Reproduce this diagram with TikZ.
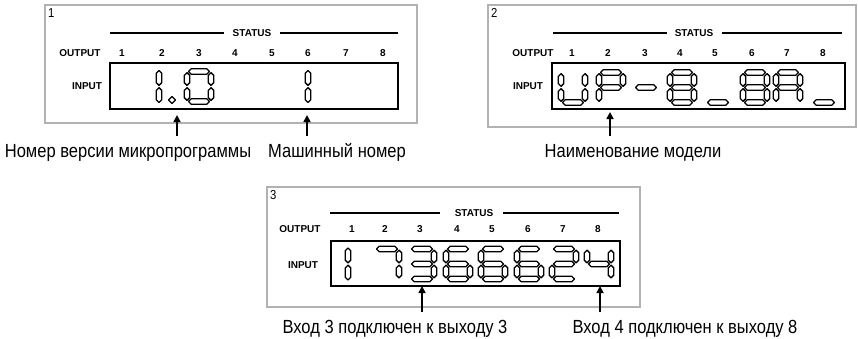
\documentclass[tikz,border=0pt]{standalone}
\usepackage{fontspec}
\setmainfont{Liberation Sans}
\newfontfamily\captionfont[FakeStretch=0.87]{Liberation Sans}
\usetikzlibrary{arrows.meta}

% one segment of the display: horizontal (x from, x to, y) and vertical (x, y from, y to)
\newcommand{\hseg}[3]{\filldraw[lcdseg] (#1,#3) -- ({#1+2.8},{#3-2.8}) -- ({#2-2.8},{#3-2.8}) -- (#2,#3) -- ({#2-2.8},{#3+2.8}) -- ({#1+2.8},{#3+2.8}) -- cycle;}
\newcommand{\vseg}[3]{\filldraw[lcdseg] (#1,#2) -- ({#1+2.8},{#2+2.8}) -- ({#1+2.8},{#3-2.8}) -- (#1,#3) -- ({#1-2.8},{#3-2.8}) -- ({#1-2.8},{#2+2.8}) -- cycle;}
\newcommand{\lcdsega}{\hseg{-10.5}{10.5}{-15}}
\newcommand{\lcdsegb}{\vseg{12}{-13.8}{-1.2}}
\newcommand{\lcdsegc}{\vseg{12}{1.2}{13.8}}
\newcommand{\lcdsegd}{\hseg{-10.5}{10.5}{15}}
\newcommand{\lcdsege}{\vseg{-12}{1.2}{13.8}}
\newcommand{\lcdsegf}{\vseg{-12}{-13.8}{-1.2}}
\newcommand{\lcdsegg}{\hseg{-10.5}{10.5}{0}}
\newcommand{\lcdsegi}{\vseg{0}{-16}{-1.2}}
\newcommand{\lcdsegj}{\vseg{0}{1.2}{16}}
\newcommand{\lcddigit}[3]{\begin{scope}[shift={(#1,#2)}]\foreach \s in {#3} {\csname lcdseg\s\endcsname}\end{scope}}

\tikzset{
  panel/.style={draw=gray!60, line width=1.8pt},
  lcdbox/.style={draw=black, line width=1.6pt},
  statusline/.style={draw=black, line width=1.6pt},
  lcdseg/.style={draw=black, fill=white, line width=1.35pt, line join=round},
  tag/.style={font=\bfseries\fontsize{10}{10}\selectfont, inner sep=0pt},
  panelno/.style={font=\captionfont\fontsize{13}{13}\selectfont, inner sep=0pt, anchor=north west},
  caption/.style={font=\captionfont\fontsize{19}{19}\selectfont, anchor=base, inner xsep=0pt, inner ysep=7pt, text height=13.5pt, text depth=4pt},
  ptr/.style={-{Triangle[width=7pt,length=7pt]}, line width=1.6pt}
}

\begin{document}
\begin{tikzpicture}[x=1pt,y=-1pt]
\useasboundingbox (0,0) rectangle (858,338);

% panel 1
\draw[panel] (45,5) rectangle (417,123);
\node[panelno] (no1) at (48,8) {1};
\draw[statusline] (110,33) -- (224,33);
\draw[statusline] (280,33) -- (398,33);
\node[tag] (status1) at (252,33) {STATUS};
\node[tag] (output1) at (80,53) {OUTPUT};
\node[tag] (input1) at (87,86) {INPUT};
\foreach \n/\x in {1/122,2/162,3/199,4/235,5/272,6/308,7/346,8/383}
  \node[tag] (out1\n) at (\x,53) {\n};
\draw[lcdbox] (110,63) rectangle (398,109);
\lcddigit{159}{86.5}{i,j}
\lcddigit{199}{86.5}{a,b,c,d,e,f}
\filldraw[lcdseg] (172,96.5) -- (175.5,100) -- (172,103.5) -- (168.5,100) -- cycle;
\lcddigit{308}{86.5}{i,j}
\coordinate (tip1a) at (177,115);
\coordinate (tip1b) at (307,115);
\node[caption] (cap1a) at (128,157) {Номер версии микропрограммы};
\node[caption] (cap1b) at (337,157) {Машинный номер};
\draw[ptr] (cap1a.north -| tip1a) -- (tip1a);
\draw[ptr] (cap1b.north -| tip1b) -- (tip1b);

% panel 2
\draw[panel] (488,5) rectangle (856,127);
\node[panelno] (no2) at (491,8) {2};
\draw[statusline] (553,33) -- (667,33);
\draw[statusline] (722,33) -- (842,33);
\node[tag] (status2) at (694,33) {STATUS};
\node[tag] (output2) at (533,53) {OUTPUT};
\node[tag] (input2) at (528,86) {INPUT};
\foreach \n/\x in {1/572,2/608,3/645,4/680,5/715,6/752,7/787,8/823}
  \node[tag] (out2\n) at (\x,53) {\n};
\draw[lcdbox] (552,63) rectangle (845,109);
\lcddigit{573}{87.5}{b,c,d,e,f}
\lcddigit{611}{87.5}{a,b,e,f,g}
\lcddigit{646}{87.5}{g}
\lcddigit{682}{87.5}{a,b,c,d,e,f,g}
\lcddigit{718}{87.5}{d}
\lcddigit{755}{87.5}{a,b,c,d,e,f,g}
\lcddigit{788}{87.5}{a,b,c,e,f,g}
\lcddigit{824}{87.5}{d}
\coordinate (tip2) at (610,112);
\node[caption] (cap2) at (633,157) {Наименование модели};
\draw[ptr] (cap2.north -| tip2) -- (tip2);

% panel 3
\draw[panel] (267,187) rectangle (640,307);
\node[panelno] (no3) at (270,190) {3};
\draw[statusline] (330,213) -- (440,213);
\draw[statusline] (503,213) -- (619,213);
\node[tag] (status3) at (474,213) {STATUS};
\node[tag] (output3) at (300,229) {OUTPUT};
\node[tag] (input3) at (303,265) {INPUT};
\foreach \n/\x in {1/352,2/385,3/420,4/457,5/492,6/528,7/563,8/598}
  \node[tag] (out3\n) at (\x,229) {\n};
\draw[lcdbox] (331,241) rectangle (620,286);
\lcddigit{348}{264}{i,j}
\lcddigit{387}{264}{a,b,c}
\lcddigit{422}{264}{a,b,c,d,g}
\lcddigit{458}{264}{a,c,d,e,f,g}
\lcddigit{493}{264}{a,c,d,e,f,g}
\lcddigit{529}{264}{a,c,d,e,f,g}
\lcddigit{564}{264}{a,b,d,e,g}
\lcddigit{599}{264}{b,c,f,g}
\coordinate (tip3a) at (422,286);
\coordinate (tip3b) at (600,286);
\node[caption] (cap3a) at (395,333) {Вход 3 подключен к выходу 3};
\node[caption] (cap3b) at (685,333) {Вход 4 подключен к выходу 8};
\draw[ptr] (cap3a.north -| tip3a) -- (tip3a);
\draw[ptr] (cap3b.north -| tip3b) -- (tip3b);
\end{tikzpicture}
\end{document}
